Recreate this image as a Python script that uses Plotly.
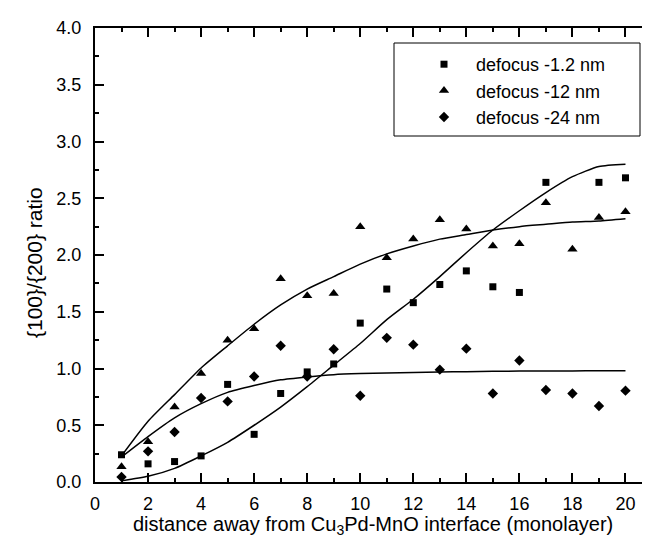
import plotly.graph_objects as go

# ---- data ----
x_all = list(range(1, 21))
x_sq = [1, 2, 3, 4, 5, 6, 7, 8, 9, 10, 11, 12, 13, 14, 15, 16, 17, 19, 20]
sq_y = [0.24, 0.16, 0.18, 0.23, 0.86, 0.42, 0.78, 0.97, 1.04, 1.40,
        1.70, 1.58, 1.74, 1.86, 1.72, 1.67, 2.64, 2.64, 2.68]
tri_y = [0.135, 0.355, 0.66, 0.955, 1.25, 1.35, 1.79, 1.64, 1.66, 2.25,
         1.975, 2.14, 2.31, 2.23, 2.08, 2.10, 2.46, 2.05, 2.33, 2.38]
dia_y = [0.045, 0.27, 0.44, 0.74, 0.71, 0.93, 1.20, 0.93, 1.17, 0.76,
         1.27, 1.21, 0.99, 1.175, 0.78, 1.07, 0.81, 0.78, 0.67, 0.805]

sq_fit = [0.01, 0.05, 0.12, 0.23, 0.35, 0.50, 0.66, 0.84, 1.03, 1.22,
          1.43, 1.61, 1.81, 2.02, 2.22, 2.39, 2.55, 2.69, 2.78, 2.80]
tri_fit = [0.23, 0.535, 0.77, 1.005, 1.20, 1.39, 1.56, 1.70, 1.81, 1.92,
           2.01, 2.08, 2.14, 2.18, 2.22, 2.25, 2.27, 2.29, 2.30, 2.32]
dia_fit = [0.22, 0.40, 0.565, 0.69, 0.79, 0.85, 0.90, 0.926, 0.946, 0.955,
           0.96, 0.965, 0.97, 0.972, 0.975, 0.977, 0.978, 0.979, 0.98, 0.98]

names = ["defocus -1.2 nm", "defocus -12 nm", "defocus -24 nm"]
x_ticks = [0, 2, 4, 6, 8, 10, 12, 14, 16, 18, 20]
y_ticks = [0.0, 0.5, 1.0, 1.5, 2.0, 2.5, 3.0, 3.5, 4.0]
x_title = "distance away from Cu<sub>3</sub>Pd-MnO interface (monolayer)"
y_title = "{100}/{200} ratio"

FONT = "Liberation Sans, Arial, sans-serif"
fig = go.Figure()

for fy in (sq_fit, tri_fit, dia_fit):
    fig.add_trace(go.Scatter(x=x_all, y=fy, mode="lines", showlegend=False,
                             line=dict(color="black", width=1.5, shape="spline", smoothing=0.6),
                             hoverinfo="skip"))

fig.add_trace(go.Scatter(x=x_sq, y=sq_y, mode="markers", name=names[0],
                         marker=dict(symbol="square", size=7, color="black")))
fig.add_trace(go.Scatter(x=x_all, y=tri_y, mode="markers", name=names[1],
                         marker=dict(symbol="triangle-up", size=9, color="black")))
fig.add_trace(go.Scatter(x=x_all, y=dia_y, mode="markers", name=names[2],
                         marker=dict(symbol="diamond", size=8, color="black")))

L, R, T, B = 87, 6, 20, 62
W, H = 650, 536
pw, ph = W - L - R, H - T - B

def px(xp):
    return (xp - L) / pw

def py(yp):
    return (H - B - yp) / ph

fig.update_layout(
    width=W, height=H,
    margin=dict(l=L, r=R, t=T, b=B, autoexpand=False),
    paper_bgcolor="white", plot_bgcolor="white",
    font=dict(family=FONT, size=18, color="black"),
    showlegend=True,
    legend=dict(x=px(404), y=py(38), xanchor="left", yanchor="top",
                bgcolor="rgba(0,0,0,0)", borderwidth=0, itemwidth=54,
                font=dict(size=18, family=FONT), tracegroupgap=0),
    shapes=[dict(type="rect", xref="paper", yref="paper",
                 x0=px(386), x1=px(632), y0=py(128), y1=py(35),
                 line=dict(color="black", width=1), fillcolor="rgba(0,0,0,0)")],
    annotations=[
        dict(text=x_title, xref="paper", yref="paper", x=px(365), y=py(503),
             xanchor="center", yanchor="top", showarrow=False,
             font=dict(size=20, family=FONT, color="black")),
        dict(text=y_title, xref="paper", yref="paper", x=px(26), y=py(255),
             xanchor="center", yanchor="middle", showarrow=False, textangle=-90,
             font=dict(size=21, family=FONT, color="black")),
    ],
)

fig.update_xaxes(range=[0, 21], tickvals=x_ticks, ticktext=[str(v) for v in x_ticks],
                 automargin=False,
                 showgrid=False, zeroline=False, showline=True, linecolor="black",
                 linewidth=2, mirror="ticks", ticks="inside", ticklen=9, tickwidth=1.5,
                 tickcolor="black", ticklabelstandoff=4,
                 minor=dict(dtick=1, tick0=0, ticks="inside", ticklen=4, tickwidth=1.5,
                            tickcolor="black", showgrid=False),
                 tickfont=dict(size=18, family=FONT))
fig.update_yaxes(range=[0, 4], tickvals=y_ticks, ticktext=[f"{v:.1f}" for v in y_ticks],
                 automargin=False,
                 showgrid=False, zeroline=False, showline=True, linecolor="black",
                 linewidth=2, mirror="ticks", ticks="inside", ticklen=9, tickwidth=1.5,
                 tickcolor="black", ticklabelstandoff=8,
                 minor=dict(dtick=0.25, tick0=0, ticks="inside", ticklen=4, tickwidth=1.5,
                            tickcolor="black", showgrid=False),
                 tickfont=dict(size=18, family=FONT))

fig.write_html("out.html")
